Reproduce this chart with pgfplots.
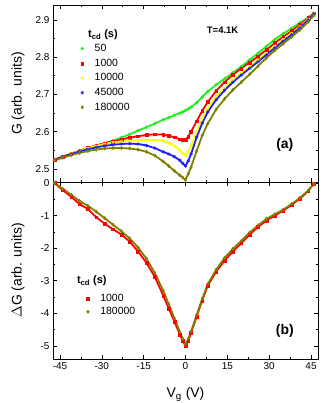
\documentclass[border=0pt]{standalone}
\usepackage{fontspec}
\setmainfont{Liberation Sans}
\usepackage{pgfplots}
\usepackage{pgfplotstable}
\pgfplotsset{compat=1.18}
\usetikzlibrary{plotmarks,calc}
\definecolor{cgreen}{HTML}{22EE22}
\definecolor{cred}{HTML}{FF0000}
\definecolor{cyellow}{HTML}{FFFF00}
\definecolor{cblue}{HTML}{2020FF}
\definecolor{colive}{HTML}{808000}

% G (arb. units) vs Vg for each cooldown time
\pgfplotstableread{
V    g50   g1000 g10000 g45000 g180000
-47  2.525 2.525 2.525  2.525  2.523
-44  2.533 2.533 2.533  2.533  2.530
-41  2.541 2.541 2.541  2.540  2.537
-38  2.549 2.549 2.549  2.547  2.543
-35  2.556 2.556 2.556  2.553  2.548
-32  2.563 2.563 2.562  2.558  2.552
-29  2.569 2.569 2.567  2.562  2.555
-26  2.576 2.574 2.571  2.565  2.556
-23  2.584 2.579 2.574  2.567  2.556
-20  2.593 2.584 2.576  2.568  2.555
-17  2.603 2.588 2.577  2.567  2.552
-14  2.612 2.591 2.578  2.563  2.546
-11  2.622 2.593 2.578  2.556  2.536
-8   2.632 2.592 2.576  2.546  2.520
-6   2.638 2.589 2.570  2.540  2.508
-4   2.644 2.585 2.562  2.533  2.495
-2   2.650 2.580 2.550  2.523  2.483
-1   2.653 2.578 2.542  2.515  2.477
0    2.657 2.579 2.536  2.508  2.471
1    2.661 2.587 2.548  2.522  2.487
2    2.666 2.600 2.562  2.540  2.505
4    2.678 2.628 2.600  2.585  2.548
6    2.693 2.656 2.635  2.623  2.590
8    2.708 2.680 2.663  2.653  2.622
11   2.726 2.710 2.695  2.686  2.660
14   2.742 2.733 2.718  2.711  2.688
17   2.758 2.753 2.740  2.733  2.712
20   2.775 2.770 2.758  2.752  2.733
23   2.793 2.786 2.775  2.770  2.754
26   2.811 2.802 2.793  2.788  2.776
29   2.829 2.820 2.811  2.806  2.798
32   2.848 2.838 2.830  2.825  2.818
35   2.863 2.855 2.848  2.843  2.836
38   2.877 2.870 2.864  2.860  2.854
41   2.892 2.887 2.882  2.879  2.873
44   2.907 2.905 2.902  2.900  2.895
46   2.918 2.918 2.917  2.916  2.912
}\gtable

% Delta G vs Vg
\pgfplotstableread{
V    d1000 d180000
-47  0.00  0.00
-44  -0.22 -0.18
-41  -0.42 -0.36
-38  -0.65 -0.55
-35  -0.80 -0.70
-32  -1.05 -0.88
-29  -1.25 -1.08
-26  -1.42 -1.28
-23  -1.58 -1.48
-20  -1.80 -1.70
-17  -2.10 -1.98
-14  -2.45 -2.32
-11  -2.88 -2.76
-8   -3.45 -3.30
-6   -3.85 -3.72
-4   -4.25 -4.15
-2   -4.65 -4.57
-1   -4.85 -4.78
0    -5.00 -4.95
1    -4.85 -4.78
2    -4.60 -4.55
4    -4.10 -4.05
6    -3.60 -3.55
8    -3.15 -3.10
11   -2.72 -2.66
14   -2.38 -2.30
17   -2.10 -2.02
20   -1.85 -1.78
23   -1.58 -1.52
26   -1.35 -1.30
29   -1.15 -1.10
32   -1.00 -0.96
35   -0.85 -0.82
38   -0.68 -0.65
41   -0.48 -0.46
44   -0.25 -0.23
46   -0.02 -0.02
}\dtable

\tikzset{ttl/.style={font=\bfseries\fontsize{11}{12}\selectfont, anchor=base west, inner sep=0pt}}
\pgfplotsset{
  panel/.style={
    scale only axis, width=265bp, height=177bp,
    xmin=-47.5, xmax=47.5,
    xtick={-45,-30,...,45}, minor x tick num=1, minor y tick num=1,
    tick align=inside, tick pos=both,
    major tick length=4bp, minor tick length=2.2bp,
    axis line style={line width=0.8pt}, every tick/.style={line width=0.6pt,black},
    tick label style={font=\fontsize{10}{12}\selectfont},
    label style={font=\fontsize{14}{16}\selectfont},
    ylabel style={at={(rel axis cs:-0.132,0.5)}, anchor=center},
    /pgf/number format/assume math mode=true,
    legend cell align=left,
    legend style={draw=none, fill=none, font=\fontsize{10.5}{12}\selectfont,
      inner sep=0pt, column sep=10pt,
      nodes={inner sep=1pt, text height=8pt, text depth=2pt}},
  },
  band/.style={line width=1.8pt, forget plot},
}

\begin{document}
\begin{tikzpicture}
\begin{axis}[panel, name=top,
  ymin=2.465, ymax=2.94, ytick={2.5,2.6,...,2.9},
  xticklabels={},
  ylabel={G (arb. units)},
  legend style={at={(0.104,0.788)}, anchor=north west, row sep=2.7pt},
]
\addplot[cgreen, band] table[x=V, y=g50] {\gtable};
\addplot[cgreen, only marks, mark=*, mark size=1.5pt] table[x=V, y=g50] {\gtable};
\addlegendentry{50}
\addplot[cred, band] table[x=V, y=g1000] {\gtable};
\addplot[cred, only marks, mark=square*, mark size=1.4pt] table[x=V, y=g1000] {\gtable};
\addlegendentry{1000}
\addplot[cyellow, band] table[x=V, y=g10000] {\gtable};
\addplot[cyellow, only marks, mark=triangle*, mark size=1.7pt, mark options={rotate=180}] table[x=V, y=g10000] {\gtable};
\addlegendentry{10000}
\addplot[cblue, band] table[x=V, y=g45000] {\gtable};
\addplot[cblue, only marks, mark=asterisk, mark size=1.7pt, mark options={line width=0.7pt}] table[x=V, y=g45000] {\gtable};
\addlegendentry{45000}
\addplot[colive, band] table[x=V, y=g180000] {\gtable};
\addplot[colive, only marks, mark=diamond*, mark size=1.7pt] table[x=V, y=g180000] {\gtable};
\addlegendentry{180000}
\node[ttl] at (rel axis cs:0.132,0.814) {t\textsubscript{cd} (s)};
\node[font=\bfseries\fontsize{9.5}{11}\selectfont] at (rel axis cs:0.64,0.86) {T=4.1K};
\node[font=\bfseries\fontsize{14}{16}\selectfont] at (rel axis cs:0.875,0.21) {(a)};
\end{axis}
\begin{axis}[panel, name=bot, at={(top.south)}, anchor=north,
  ymin=-5.4, ymax=0.03, ytick={-5,-4,...,0},
  xlabel={V\textsubscript{g} (V)},
  xlabel style={at={(rel axis cs:0.5,-0.215)}, anchor=base},
  ylabel={$\Delta$G (arb. units)},
  legend style={at={(0.126,0.375)}, anchor=north west, row sep=1pt},
]
\addplot[cred, band] table[x=V, y=d1000] {\dtable};
\addplot[cred, only marks, mark=square*, mark size=1.4pt] table[x=V, y=d1000] {\dtable};
\addlegendentry{1000}
\addplot[colive, band] table[x=V, y=d180000] {\dtable};
\addplot[colive, only marks, mark=diamond*, mark size=1.7pt] table[x=V, y=d180000] {\dtable};
\addlegendentry{180000}
\node[ttl] at (rel axis cs:0.09,0.424) {t\textsubscript{cd} (s)};
\node[font=\bfseries\fontsize{14}{16}\selectfont] at (rel axis cs:0.875,0.16) {(b)};
\end{axis}
\pgfresetboundingbox
\path ($(top.north west)+(-53bp,5bp)$) rectangle ($(bot.south east)+(14bp,-44bp)$);
\end{tikzpicture}
\end{document}
